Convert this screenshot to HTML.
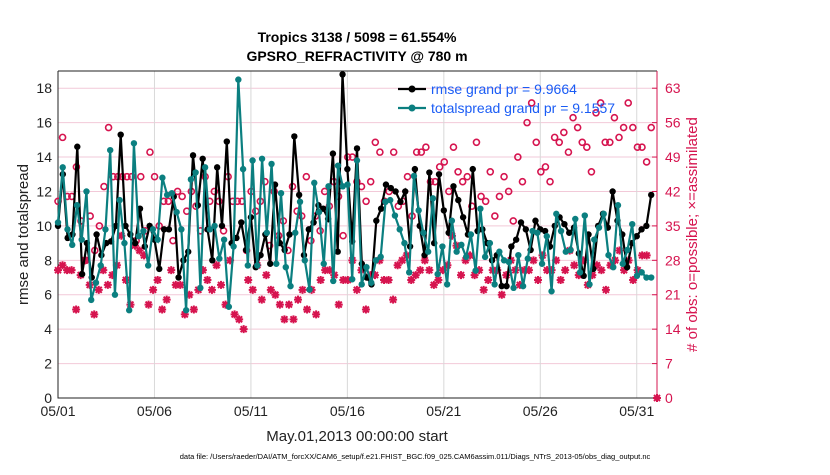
<!DOCTYPE html>
<html><head><meta charset="utf-8"><style>
body{margin:0;background:#fff;width:830px;height:470px;overflow:hidden;font-family:"Liberation Sans",sans-serif}
</style></head><body>
<svg id="c" width="830" height="470" xmlns="http://www.w3.org/2000/svg"></svg>
<script>
const rmse=[10,13,9.3,9.5,14.6,7.2,9,7,9.5,8.3,9,9.1,10,15.3,10,9.5,9,11,8.8,10,9.2,7.5,9.8,9.8,11.7,7,8,8.5,14.1,11.2,13.9,9.8,8,13.4,10,14.9,9,9.3,10.2,8.6,10.5,7.6,
8.3,9.5,7.8,12.4,9,8.6,9.5,15.2,11.8,8.3,9.8,10.2,11.2,11,10.4,14.2,8.5,18.8,13.3,9.1,14.5,7.8,7,6.6,10.3,11,12.4,12.2,12,11.4,12,8.8,13.3,10,8.3,13.1,9,13,10.9,9.6,12.3,11.5,10.5,
9.5,13.3,9.7,9.8,9,8,8.3,6.5,6.5,8.8,9.2,10.2,9.8,8.6,10.3,9.8,9.7,8.8,10,10.5,10.1,9.6,9.9,8.4,7.1,9.5,7.5,10,10.7,9.9,12,10.3,9.5,7.6,9,9.4,9.8,10,11.8];
const spread=[10.2,13.4,9.8,8.9,11.2,9.2,12,5.7,6.7,7.7,9.8,14.4,6,11.5,9,5.1,14.8,9.4,9.7,7.7,9.8,9.2,12.8,11.8,11.9,10.8,9.8,5.1,12.7,13.1,6.4,13.4,9.8,10,8.1,9.2,5.3,8.8,18.5,13.3,7.7,13.8,
7.7,13.9,9.6,13.6,7.8,11.9,7.6,6.5,9.6,11.4,8,6.3,12.5,10.8,7.8,12.3,6.8,13.5,12.3,12.4,6.9,13.8,6.6,7.6,6.7,8,8.2,11.4,11.5,10.6,9.8,9,7.3,12.9,10.9,9.6,8.5,11.6,7.2,8.8,6.6,10.3,8.5,
8.9,8.2,9.5,7.4,11,8.2,9,6.6,8.5,8,7.9,6.4,8.3,6.5,8.1,9.7,9.6,7.8,9.4,6.2,10.7,9.7,8.5,8.6,10.4,7.3,10.6,6.6,9.2,9.9,10.7,8.3,7.6,11.2,7.8,8.6,10.1,7.1,7.3,7,7];
const possible=[40,53,41,41,47,36,28,37,30,35,43,55,45,45,45,45,45,32,45,34,50,45,35,40,40,32,42,41,38,42,39,34,45,40,42,40,34,45,40,40,40,30,
42,38,40,44,31,42,33,36,30,43,38,37,45,32,37,34,42,39,44,41,33,49,49,44,43,40,44,52,50,40,42,50,39,40,45,37,50,50,51,44,44,47,48,42,51,46,44,
45,39,52,41,40,46,37,41,45,42,36,49,44,56,60,52,46,47,44,53,52,54,50,57,55,52,51,46,58,60,52,52,57,53,55,60,55,51,51,48,55];
const assimilated=[26,27,26,26,18,25,28,23,17,22,26,23,25,27,33,24,19,31,30,29,19,22,24,18,20,26,23,23,17,21,18,22,26,24,22,27,23,19,28,17,16,14,
24,22,27,20,25,22,21,19,16,19,16,20,22,18,22,17,24,26,26,25,19,24,24,28,22,26,18,25,25,28,24,24,20,27,28,29,24,25,26,28,26,23,24,26,27,33,31,
25,28,29,25,26,22,24,26,26,21,25,28,26,23,26,26,28,24,29,26,26,28,24,26,30,27,25,28,23,25,27,26,22,27,28,30,26,28,24,26,29,29,0];
const yTicks=[0,2,4,6,8,10,12,14,16,18];
const rTicks=[0,7,14,21,28,35,42,49,56,63];
const xTickLabels=["05/01","05/06","05/11","05/16","05/21","05/26","05/31"];
const xTickDays=[0,5,10,15,20,25,30];
const LAST_DAY=30.75;

const svg=document.getElementById('c');const NS="http://www.w3.org/2000/svg";
const L=58,R=657,T=71,B=398,YMAX=19,XMAX=31.05;
const X=d=>L+d/XMAX*(R-L), Y=v=>B-v/YMAX*(B-T), YR=v=>B-v/(YMAX*3.5)*(B-T);
const day=(i,arr)=>i*LAST_DAY/(arr.length-1);
function el(tag,attrs,txt){const e=document.createElementNS(NS,tag);for(const k in attrs)e.setAttribute(k,attrs[k]);if(txt!==undefined)e.textContent=txt;svg.appendChild(e);return e;}
el('rect',{x:L,y:T,width:R-L,height:B-T,fill:'#fff',stroke:'none'});
yTicks.forEach(v=>{const g=el('line',{x1:L,x2:R,y1:Y(v),y2:Y(v),stroke:'#f2c9d8','stroke-width':1});

const t=el('text',{x:L-6,y:Y(v)+5,'text-anchor':'end','font-size':14,fill:'#222'},v);
});
xTickDays.forEach((d,i)=>{const g=el('line',{x1:X(d),x2:X(d),y1:T,y2:B,stroke:'#d8d8d8','stroke-width':1});

const t=el('text',{x:X(d),y:B+18,'text-anchor':'middle','font-size':14,fill:'#222'},xTickLabels[i]);
});
rTicks.forEach(v=>{el('line',{x1:R-5,x2:R,y1:YR(v),y2:YR(v),stroke:'#d6144f'});
const t=el('text',{x:R+8,y:YR(v)+5,'font-size':14,fill:'#d6144f'},v);
});
el('path',{d:`M${L} ${T}H${R}`,stroke:'#222',fill:'none'});
el('path',{d:`M${L} ${T}V${B}H${R}`,stroke:'#222',fill:'none'});
el('path',{d:`M${R} ${T}V${B}`,stroke:'#d6144f',fill:'none'});
possible.forEach((v,i)=>{const c=el('circle',{cx:X(day(i,possible)),cy:YR(v),r:3,fill:'none',stroke:'#d6144f','stroke-width':1.6});
});
assimilated.forEach((v,i)=>{const x=i===assimilated.length-1&&v===0?R:X(day(i,assimilated)),y=YR(v);const p=el('path',{d:`M${x-4} ${y}H${x+4}M${x} ${y-4}V${y+4}M${x-3} ${y-3}L${x+3} ${y+3}M${x-3} ${y+3}L${x+3} ${y-3}`,stroke:'#d6144f','stroke-width':2});
});
function series(arr,col,name){const d=arr.map((v,i)=>(i?'L':'M')+X(day(i,arr)).toFixed(1)+' '+Y(v).toFixed(1)).join('');
const p=el('path',{d:d,stroke:col,'stroke-width':2.2,fill:'none'});
arr.forEach((v,i)=>{const c=el('circle',{cx:X(day(i,arr)),cy:Y(v),r:3.2,fill:col});});}
series(rmse,'#000','rmse');
series(spread,'#0b7f80','totalspread');
[[89,'#000','rmse grand pr = 9.9664','legend-rmse'],[108,'#0b7f80','totalspread grand pr = 9.1557','legend-totalspread']].forEach(a=>{
el('line',{x1:398,x2:426,y1:a[0],y2:a[0],stroke:a[1],'stroke-width':2.2});el('circle',{cx:412,cy:a[0],r:3.5,fill:a[1]});
const t=el('text',{x:431,y:a[0]+5,'font-size':14,fill:'#1a5cf5'},a[2]);});
const t1=el('text',{x:357,y:42,'text-anchor':'middle','font-size':14,'font-weight':'bold',fill:'#000'},'Tropics 3138 / 5098 = 61.554%');

const t2=el('text',{x:357,y:61,'text-anchor':'middle','font-size':14,'font-weight':'bold',fill:'#000'},'GPSRO_REFRACTIVITY @ 780 m');

const yl=el('text',{x:0,y:0,'text-anchor':'middle','font-size':15,fill:'#222',transform:`translate(28 ${(T+B)/2}) rotate(-90)`},'rmse and totalspread');

const yr=el('text',{x:0,y:0,'text-anchor':'middle','font-size':15,fill:'#d6144f',transform:`translate(697 ${(T+B)/2}) rotate(-90)`},'# of obs: o=possible; \u00d7=assimilated');

const xl=el('text',{x:357,y:441,'text-anchor':'middle','font-size':15,fill:'#222'},'May.01,2013 00:00:00 start');

const fn=el('text',{x:415,y:459,'text-anchor':'middle','font-size':7.5,fill:'#000'},'data file: /Users/raeder/DAI/ATM_forcXX/CAM6_setup/f.e21.FHIST_BGC.f09_025.CAM6assim.011/Diags_NTrS_2013-05/obs_diag_output.nc');

</script>
</body></html>
